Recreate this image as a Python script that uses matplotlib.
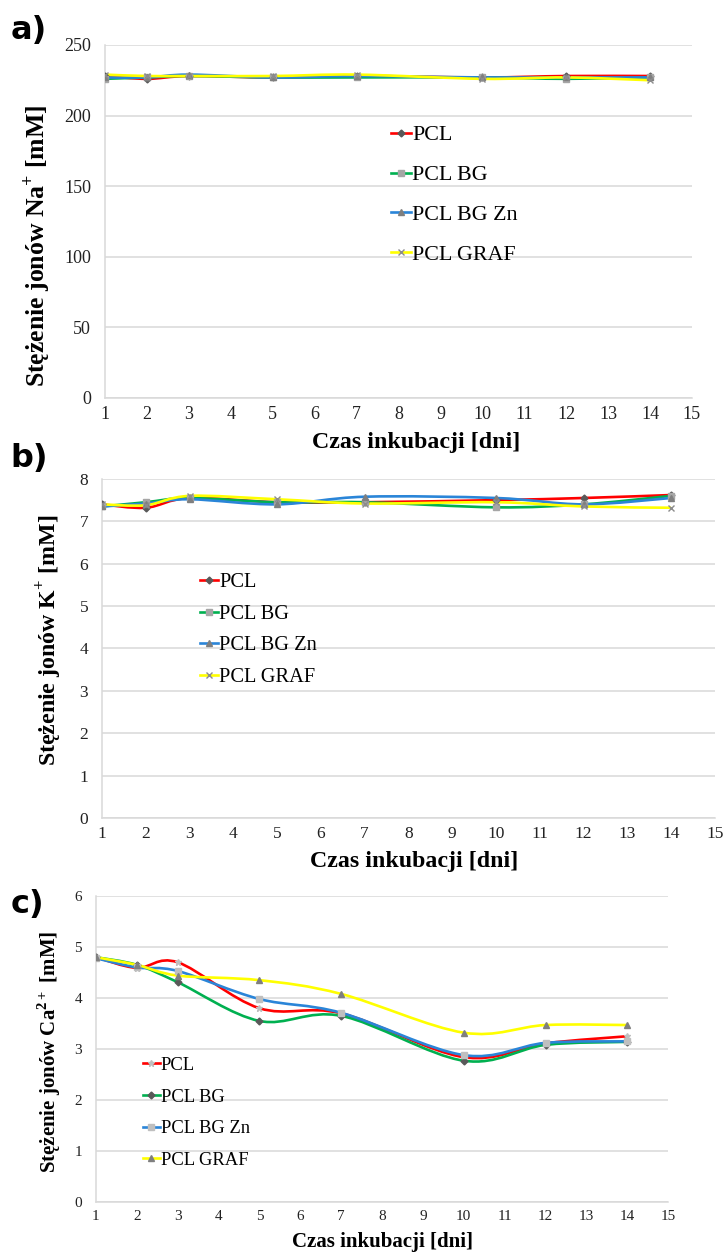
import matplotlib
matplotlib.use('Agg')
import matplotlib.pyplot as plt
from matplotlib.path import Path
from matplotlib.patches import PathPatch
from matplotlib.lines import Line2D

plt.rcParams['font.family'] = 'Liberation Serif'
plt.rcParams['mathtext.fontset'] = 'custom'
plt.rcParams['mathtext.rm'] = 'Liberation Serif:bold'
plt.rcParams['mathtext.bf'] = 'Liberation Serif:bold'

# incubation days
days = [1, 2, 3, 5, 7, 10, 12, 14]
series = ['PCL', 'PCL BG', 'PCL BG Zn', 'PCL GRAF']

# a) Na+ [mM]
na_pcl = [228, 226, 228, 227, 228, 227, 228, 228]
na_bg = [226, 227, 228, 227, 227, 227, 226, 227]
na_zn = [227, 227, 229, 227, 228, 227, 227, 227]
na_graf = [229, 228, 228, 228, 229, 226, 227, 225]

# b) K+ [mM]
k_pcl = [7.40, 7.32, 7.55, 7.45, 7.45, 7.50, 7.55, 7.62]
k_bg = [7.35, 7.45, 7.55, 7.45, 7.45, 7.33, 7.40, 7.60]
k_zn = [7.35, 7.42, 7.52, 7.40, 7.58, 7.55, 7.40, 7.55]
k_graf = [7.40, 7.38, 7.60, 7.52, 7.42, 7.45, 7.35, 7.32]

# c) Ca2+ [mM]
ca_pcl = [4.80, 4.59, 4.70, 3.80, 3.70, 2.84, 3.11, 3.25]
ca_bg = [4.80, 4.65, 4.31, 3.55, 3.65, 2.77, 3.08, 3.14]
ca_zn = [4.78, 4.60, 4.53, 3.98, 3.71, 2.88, 3.12, 3.15]
ca_graf = [4.80, 4.65, 4.44, 4.35, 4.08, 3.32, 3.47, 3.47]

colors = ['#FF0000', '#00B050', '#2A85D8', '#FFFF00']
grid_c = '#D9D9D9'


def smooth_path(x, y):
    # Excel-like smoothed line drawn as bezier segments through the points
    verts = [(x[0], y[0])]
    codes = [Path.MOVETO]
    n = len(x)
    for i in range(n - 1):
        x0, y0 = (x[i - 1], y[i - 1]) if i > 0 else (x[i], y[i])
        x3, y3 = (x[i + 2], y[i + 2]) if i + 2 < n else (x[i + 1], y[i + 1])
        c1 = (x[i] + (x[i + 1] - x0) / 6, y[i] + (y[i + 1] - y0) / 6)
        c2 = (x[i + 1] - (x3 - x[i]) / 6, y[i + 1] - (y3 - y[i]) / 6)
        verts += [c1, c2, (x[i + 1], y[i + 1])]
        codes += [Path.CURVE4] * 3
    return Path(verts, codes)


def panel(ax, data, markers, ylim, yticks, ylabel, fs_tick, fs_xlab, fs_ylab,
          xlab_x, ylab_y, ylab_pad, leg_pos, leg_fs, leg_sp):
    handles = []
    for vals, col, (m, mc, ms), name in zip(data, colors, markers, series):
        ax.add_patch(PathPatch(smooth_path(days, vals), facecolor='none',
                               edgecolor=col, lw=1.9, zorder=3))
        ax.plot(days, vals, ls='none', marker=m, color=mc, ms=ms, mew=1.0, zorder=4)
        handles.append(Line2D([], [], color=col, lw=1.9, marker=m, markerfacecolor=mc,
                              markeredgecolor=mc, ms=ms))
    ax.set_xlim(1, 15)
    ax.set_xticks(range(1, 16))
    ax.set_ylim(*ylim)
    ax.set_yticks(yticks)
    ax.grid(axis='y', color=grid_c, lw=1.1)
    ax.set_axisbelow(True)
    for s in ['top', 'right']:
        ax.spines[s].set_visible(False)
    for s in ['left', 'bottom']:
        ax.spines[s].set_color(grid_c)
        ax.spines[s].set_linewidth(1.1)
    ax.tick_params(length=0, labelsize=fs_tick, colors='#222222')
    ax.tick_params(axis='y', pad=10)
    ax.tick_params(axis='x', pad=6)
    ax.set_xlabel('Czas inkubacji [dni]', fontsize=fs_xlab, fontweight='bold', labelpad=6)
    ax.xaxis.label.set_x(xlab_x)
    ax.set_ylabel(ylabel, fontsize=fs_ylab, fontweight='bold', labelpad=ylab_pad)
    ax.yaxis.label.set_y(ylab_y)
    ax.legend(handles=handles, labels=series, loc='upper left', bbox_to_anchor=leg_pos,
              bbox_transform=fig.transFigure, frameon=False, fontsize=leg_fs,
              handlelength=0.9, handletextpad=0.05, labelspacing=leg_sp,
              borderpad=0, borderaxespad=0)


fig = plt.figure(figsize=(7.27, 12.59), dpi=100)

marks_ab = [('D', '#595959', 3.5), ('s', '#A6A6A6', 4), ('^', '#7F7F7F', 4.5), ('x', '#8C8C8C', 4.5)]
marks_c = [('*', '#BFBFBF', 5), ('D', '#595959', 3.5), ('s', '#BFBFBF', 5), ('^', '#7F7F7F', 4.5)]

ax1 = fig.add_axes([0.1444, 0.6839, 0.8074, 0.2804])
panel(ax1, [na_pcl, na_bg, na_zn, na_graf], marks_ab,
      (0, 250), range(0, 251, 50), r'Stężenie jonów Na$^{+}$ [mM]', 13, 17.2, 18.5,
      0.53, 0.43, 9, (0.538, 0.9007), 15.8, 0.89)

ax2 = fig.add_axes([0.1403, 0.3503, 0.843, 0.2693])
panel(ax2, [k_pcl, k_bg, k_zn, k_graf], marks_ab,
      (0, 8), range(0, 9), r'Stężenie jonów K$^{+}$ [mM]', 12.5, 17.2, 17.2,
      0.51, 0.525, 11, (0.275, 0.545), 14.7, 0.6)

ax3 = fig.add_axes([0.132, 0.0453, 0.787, 0.2430])
panel(ax3, [ca_pcl, ca_bg, ca_zn, ca_graf], marks_c,
      (0, 6), range(0, 7), r'Stężenie jonów Ca$^{2+}$ [mM]', 11, 15, 15,
      0.5, 0.49, 8, (0.1967, 0.1605), 13.4, 0.78)

for txt, yy in [('a)', 0.988), ('b)', 0.648), ('c)', 0.294)]:
    fig.text(0.014, yy, txt, fontsize=23, fontweight='bold', family='DejaVu Sans', va='top')

fig.savefig('out.png', dpi=100)
